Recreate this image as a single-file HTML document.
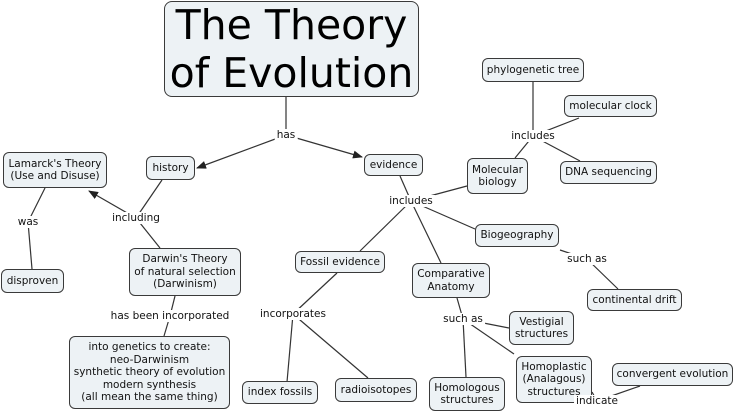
<!DOCTYPE html>
<html><head><meta charset="utf-8">
<style>
body{margin:0;background:#fff;width:735px;height:412px;overflow:hidden;position:relative;font-family:"DejaVu Sans","Liberation Sans",sans-serif;}
svg{position:absolute;left:0;top:0;}
.n{position:absolute;box-sizing:border-box;background:#edf2f5;border:1.3px solid #3a3a3a;border-radius:6px;display:flex;align-items:center;justify-content:center;text-align:center;font-size:10.5px;line-height:12.5px;color:#111;white-space:nowrap;}
.l{position:absolute;transform:translate(-50%,-50%);background:#fff;padding:0 2px;font-size:10.5px;color:#111;white-space:nowrap;line-height:12px;}
</style></head><body>
<svg width="735" height="412">
<defs><marker id="ar" markerWidth="10" markerHeight="8" refX="9" refY="4" orient="auto" markerUnits="userSpaceOnUse"><path d="M0,0 L10,4 L0,8 z" fill="#222"/></marker></defs>
<g stroke="#333" stroke-width="1.2" fill="none">
<line x1="286" y1="96" x2="286" y2="135"/>
<line x1="286" y1="135" x2="197" y2="168" marker-end="url(#ar)"/>
<line x1="286" y1="135" x2="362" y2="157" marker-end="url(#ar)"/>
<line x1="162" y1="180" x2="136" y2="218"/>
<line x1="136" y1="218" x2="89" y2="191" marker-end="url(#ar)"/>
<line x1="136" y1="218" x2="160" y2="248"/>
<line x1="45" y1="188" x2="28" y2="222"/>
<line x1="28" y1="222" x2="32" y2="269"/>
<line x1="175" y1="296" x2="170" y2="316"/>
<line x1="170" y1="316" x2="164" y2="336"/>
<line x1="400" y1="176" x2="411" y2="201"/>
<line x1="411" y1="201" x2="467" y2="186"/>
<line x1="411" y1="201" x2="475" y2="229"/>
<line x1="411" y1="201" x2="360" y2="251"/>
<line x1="411" y1="201" x2="441" y2="263"/>
<line x1="515" y1="158" x2="533" y2="136"/>
<line x1="533" y1="136" x2="533" y2="82"/>
<line x1="533" y1="136" x2="579" y2="118"/>
<line x1="533" y1="136" x2="580" y2="161"/>
<line x1="560" y1="250" x2="587" y2="259"/>
<line x1="587" y1="259" x2="618" y2="289"/>
<line x1="337" y1="273" x2="293" y2="314"/>
<line x1="293" y1="314" x2="287" y2="382"/>
<line x1="293" y1="314" x2="368" y2="378"/>
<line x1="457" y1="298" x2="463" y2="319"/>
<line x1="463" y1="319" x2="509" y2="328"/>
<line x1="463" y1="319" x2="466" y2="377"/>
<line x1="463" y1="319" x2="514" y2="354"/>
<line x1="592" y1="392" x2="597" y2="401"/>
<line x1="597" y1="401" x2="640" y2="386"/>
</g></svg>

<div class="n" style="left:164px;top:1px;width:255px;height:96px;font-size:41px;line-height:48px;color:#000;border-radius:8px;">The Theory<br>of Evolution</div>
<div class="n" style="left:3px;top:152px;width:104px;height:36px;">Lamarck's Theory<br>(Use and Disuse)</div>
<div class="n" style="left:146px;top:156px;width:49px;height:24px;">history</div>
<div class="n" style="left:364px;top:154px;width:59px;height:22px;">evidence</div>
<div class="n" style="left:482px;top:58px;width:102px;height:24px;">phylogenetic tree</div>
<div class="n" style="left:564px;top:95px;width:93px;height:22px;">molecular clock</div>
<div class="n" style="left:467px;top:158px;width:61px;height:36px;">Molecular<br>biology</div>
<div class="n" style="left:560px;top:161px;width:97px;height:23px;">DNA sequencing</div>
<div class="n" style="left:475px;top:224px;width:84px;height:23px;">Biogeography</div>
<div class="n" style="left:1px;top:269px;width:63px;height:24px;">disproven</div>
<div class="n" style="left:129px;top:248px;width:112px;height:48px;">Darwin's Theory<br>of natural selection<br>(Darwinism)</div>
<div class="n" style="left:295px;top:251px;width:90px;height:22px;">Fossil evidence</div>
<div class="n" style="left:412px;top:263px;width:78px;height:35px;">Comparative<br>Anatomy</div>
<div class="n" style="left:587px;top:289px;width:95px;height:22px;">continental drift</div>
<div class="n" style="left:509px;top:311px;width:65px;height:34px;">Vestigial<br>structures</div>
<div class="n" style="left:69px;top:336px;width:161px;height:73px;">into genetics to create:<br>neo-Darwinism<br>synthetic theory of evolution<br>modern synthesis<br>(all mean the same thing)</div>
<div class="n" style="left:242px;top:381px;width:76px;height:23px;">index fossils</div>
<div class="n" style="left:335px;top:378px;width:82px;height:24px;">radioisotopes</div>
<div class="n" style="left:429px;top:377px;width:76px;height:34px;">Homologous<br>structures</div>
<div class="n" style="left:516px;top:356px;width:76px;height:47px;">Homoplastic<br>(Analagous)<br>structures</div>
<div class="n" style="left:612px;top:363px;width:121px;height:23px;">convergent evolution</div>

<div class="l" style="left:286px;top:135px;">has</div>
<div class="l" style="left:136px;top:218px;">including</div>
<div class="l" style="left:28px;top:222px;">was</div>
<div class="l" style="left:170px;top:316px;">has been incorporated</div>
<div class="l" style="left:411px;top:201px;">includes</div>
<div class="l" style="left:533px;top:136px;">includes</div>
<div class="l" style="left:587px;top:259px;">such as</div>
<div class="l" style="left:293px;top:314px;">incorporates</div>
<div class="l" style="left:463px;top:319px;">such as</div>
<div class="l" style="left:597px;top:401px;">indicate</div>
</body></html>
